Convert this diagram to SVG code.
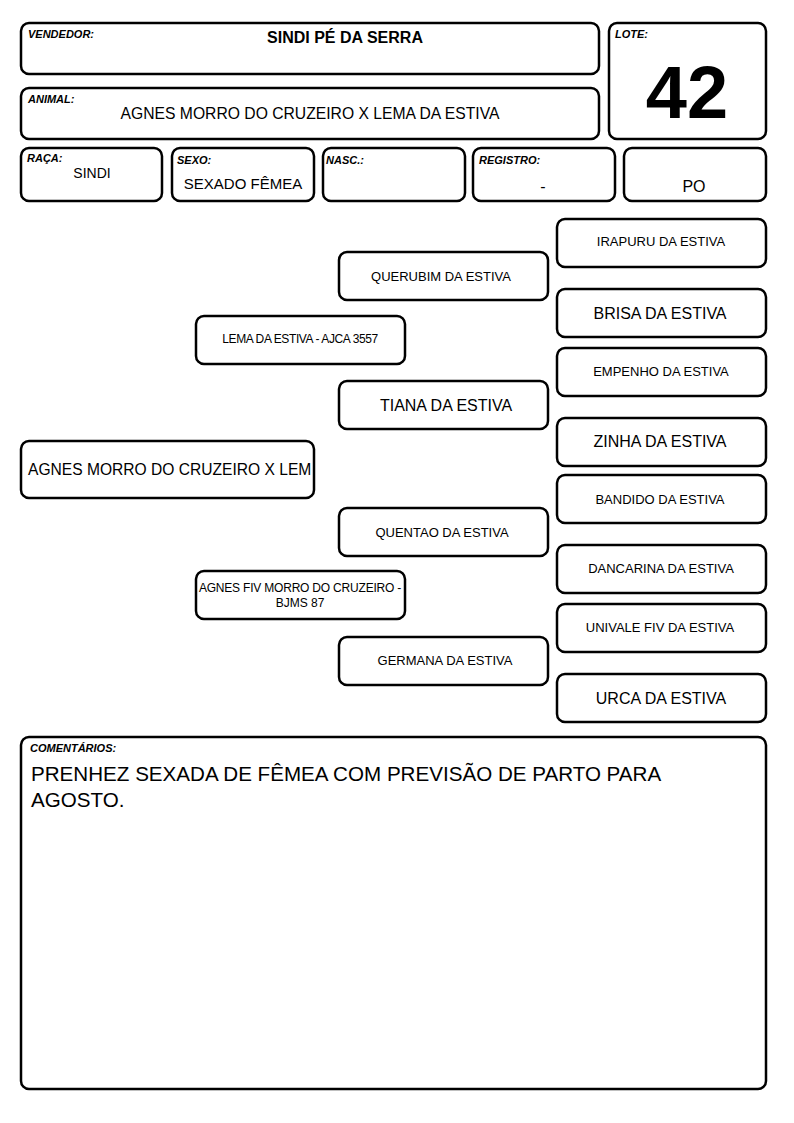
<svg xmlns="http://www.w3.org/2000/svg" width="794" height="1123" viewBox="0 0 794 1123">
<style>
.b{fill:#fff;stroke:#000;stroke-width:2.5}
.l{font-family:"Liberation Sans",Arial,sans-serif;font-weight:bold;font-style:italic;font-size:11px;fill:#000}
.t{font-family:"Liberation Sans",Arial,sans-serif;fill:#000;text-anchor:middle}
.s13{font-size:13px}
.s16{font-size:16px}
</style>
<defs><clipPath id="rc"><rect x="21" y="441" width="291" height="57"/></clipPath></defs>
<rect width="794" height="1123" fill="#fff"/>
<g id="vendedor"><rect class="b" x="21" y="23" width="578" height="51" rx="8"/><text class="l" x="28" y="38">VENDEDOR:</text><text class="t s16" x="345" y="43" font-weight="bold">SINDI PÉ DA SERRA</text></g>
<g id="lote"><rect class="b" x="609" y="23" width="157" height="116" rx="8"/><text class="l" x="615" y="38">LOTE:</text><text class="t" x="687" y="118" font-size="74" font-weight="bold">42</text></g>
<g id="animal"><rect class="b" x="21" y="88" width="578" height="51" rx="8"/><text class="l" x="28" y="103">ANIMAL:</text><text class="t" x="310" y="119" font-size="15.7">AGNES MORRO DO CRUZEIRO X LEMA DA ESTIVA</text></g>
<g id="raca"><rect class="b" x="21" y="148" width="141" height="53" rx="8"/><text class="l" x="27" y="162">RAÇA:</text><text class="t" x="92" y="178" font-size="14">SINDI</text></g>
<g id="sexo"><rect class="b" x="172" y="148" width="142" height="53" rx="8"/><text class="l" x="177" y="164">SEXO:</text><text class="t" x="243" y="189" font-size="15">SEXADO FÊMEA</text></g>
<g id="nasc"><rect class="b" x="323" y="148" width="142" height="53" rx="8"/><text class="l" x="326" y="164">NASC.:</text></g>
<g id="registro"><rect class="b" x="473" y="148" width="142" height="53" rx="8"/><text class="l" x="479" y="164">REGISTRO:</text><text class="t s16" x="543" y="192">-</text></g>
<g id="po"><rect class="b" x="624" y="148" width="142" height="53" rx="8"/><text class="t s16" x="694" y="192">PO</text></g>
<g id="connectors"></g>
<g id="irapuru"><rect class="b" x="557" y="219" width="209" height="48" rx="8"/><text class="t s13" x="661" y="246">IRAPURU DA ESTIVA</text></g>
<g id="brisa"><rect class="b" x="557" y="289" width="209" height="48" rx="8"/><text class="t s16" x="660" y="319">BRISA DA ESTIVA</text></g>
<g id="empenho"><rect class="b" x="557" y="348" width="209" height="48" rx="8"/><text class="t s13" x="661" y="376">EMPENHO DA ESTIVA</text></g>
<g id="zinha"><rect class="b" x="557" y="418" width="209" height="48" rx="8"/><text class="t s16" x="660" y="447">ZINHA DA ESTIVA</text></g>
<g id="bandido"><rect class="b" x="557" y="475" width="209" height="48" rx="8"/><text class="t s13" x="660" y="504">BANDIDO DA ESTIVA</text></g>
<g id="dancarina"><rect class="b" x="557" y="545" width="209" height="48" rx="8"/><text class="t s13" x="661" y="573">DANCARINA DA ESTIVA</text></g>
<g id="univale"><rect class="b" x="557" y="604" width="209" height="48" rx="8"/><text class="t s13" x="660" y="632">UNIVALE FIV DA ESTIVA</text></g>
<g id="urca"><rect class="b" x="557" y="674" width="209" height="48" rx="8"/><text class="t s16" x="661" y="704">URCA DA ESTIVA</text></g>
<g id="querubim"><rect class="b" x="339" y="252" width="209" height="48" rx="8"/><text class="t s13" x="441" y="281">QUERUBIM DA ESTIVA</text></g>
<g id="tiana"><rect class="b" x="339" y="381" width="209" height="48" rx="8"/><text class="t s16" x="446" y="411">TIANA DA ESTIVA</text></g>
<g id="quentao"><rect class="b" x="339" y="508" width="209" height="48" rx="8"/><text class="t s13" x="442" y="537">QUENTAO DA ESTIVA</text></g>
<g id="germana"><rect class="b" x="339" y="637" width="209" height="48" rx="8"/><text class="t s13" x="445" y="665">GERMANA DA ESTIVA</text></g>
<g id="lema"><rect class="b" x="196" y="316" width="209" height="48" rx="8"/><text class="t" x="300" y="343" font-size="12" letter-spacing="-0.4">LEMA DA ESTIVA - AJCA 3557</text></g>
<g id="agnesfiv"><rect class="b" x="196" y="571" width="209" height="48" rx="8"/><text class="t" x="300" y="592" font-size="12" letter-spacing="-0.2">AGNES FIV MORRO DO CRUZEIRO -</text><text class="t" x="300" y="607" font-size="12">BJMS 87</text></g>
<g id="root"><rect class="b" x="21" y="441" width="293" height="57" rx="8"/><text x="28" y="475" font-family="Liberation Sans,Arial,sans-serif" font-size="15.6" clip-path="url(#rc)">AGNES MORRO DO CRUZEIRO X LEM</text></g>
<g id="comentarios"><rect class="b" x="21" y="737" width="745" height="352" rx="8"/><text class="l" x="30" y="752">COMENTÁRIOS:</text><text x="31" y="781" font-family="Liberation Sans,Arial,sans-serif" font-size="20.6">PRENHEZ SEXADA DE FÊMEA COM PREVISÃO DE PARTO PARA</text><text x="31" y="807" font-family="Liberation Sans,Arial,sans-serif" font-size="20.6">AGOSTO.</text></g>
</svg>
